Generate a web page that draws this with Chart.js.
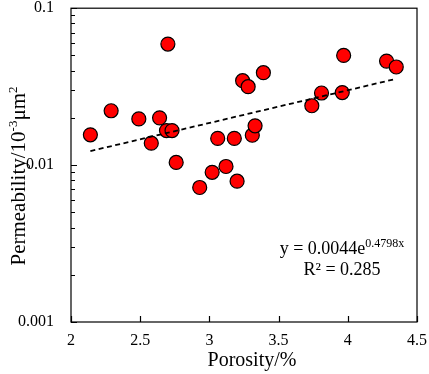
<!DOCTYPE html>
<html lang="en">
<head>
    <meta charset="UTF-8">
    <title>Permeability vs Porosity</title>
    <script src="https://cdn.jsdelivr.net/npm/chart.js"></script>
    <style>
        body { margin: 0; background: #fff; }
        .wrap { width: 429px; height: 374px; }
    </style>
</head>
<body>
    <div class="wrap"><canvas id="chart"></canvas></div>
    <script>
        // porosity (%) and permeability (10^-3 um^2)
        const porosity = [2.14, 2.29, 2.49, 2.58, 2.64, 2.69, 2.73, 2.70, 2.76, 2.93, 3.02, 3.06, 3.12,
                          3.18, 3.20, 3.24, 3.28, 3.31, 3.33, 3.39, 3.74, 3.81, 3.96, 3.97, 4.28, 4.35];
        const permeability = [0.0156, 0.0222, 0.0197, 0.0138, 0.0200, 0.0166, 0.0166, 0.0591, 0.0104,
                              0.0072, 0.0090, 0.0148, 0.0098, 0.0148, 0.0079, 0.0345, 0.0316, 0.0155,
                              0.0178, 0.0388, 0.0239, 0.0288, 0.0290, 0.0500, 0.0460, 0.0422];

        // exponential fit y = a * e^(b x)
        const fitA = 0.0044;
        const fitB = 0.4798;
        const fitR2 = 0.285;

        const xTicks = [2, 2.5, 3, 3.5, 4, 4.5];
        const yTicks = [0.001, 0.01, 0.1];

        const FONT = "'Liberation Serif', 'Times New Roman', serif";

        const points = porosity.map((x, i) => ({ x: x, y: permeability[i] }));
        const xMin = Math.min(...porosity), xMax = Math.max(...porosity);
        const trend = [xMin, xMax].map(x => ({ x: x, y: fitA * Math.exp(fitB * x) }));

        // minor ticks for the log axis (2..9 x 10^n)
        const yMinor = [];
        for (let d = 0; d < yTicks.length - 1; d++) {
            for (let k = 2; k <= 9; k++) yMinor.push(yTicks[d] * k);
        }

        // draws frame, inward ticks and the texts with superscripts
        const extras = {
            id: 'extras',
            afterDraw(chart) {
                const ctx = chart.ctx;
                const a = chart.chartArea;
                const xs = chart.scales.x, ys = chart.scales.y;
                ctx.save();
                ctx.strokeStyle = '#000';
                ctx.lineWidth = 1.2;
                ctx.strokeRect(a.left, a.top, a.right - a.left, a.bottom - a.top);

                ctx.beginPath();
                xTicks.forEach(v => {
                    const px = Math.round(xs.getPixelForValue(v)) + 0.5;
                    ctx.moveTo(px, a.bottom);
                    ctx.lineTo(px, a.bottom - 6);
                });
                yTicks.forEach(v => {
                    const py = Math.round(ys.getPixelForValue(v)) + 0.5;
                    ctx.moveTo(a.left, py);
                    ctx.lineTo(a.left + 6, py);
                });
                yMinor.forEach(v => {
                    const py = Math.round(ys.getPixelForValue(v)) + 0.5;
                    ctx.moveTo(a.left, py);
                    ctx.lineTo(a.left + 4, py);
                });
                ctx.stroke();

                ctx.fillStyle = '#000';
                ctx.textBaseline = 'alphabetic';

                // x title
                ctx.font = '20px ' + FONT;
                ctx.textAlign = 'center';
                ctx.fillText('Porosity/%', 252, 366);

                // y title, rotated, with superscripts
                const parts = [
                    { t: 'Permeability/10', size: 21, rise: 0 },
                    { t: '-3', size: 13, rise: 8 },
                    { t: '\u03bcm', size: 21, rise: 0 },
                    { t: '2', size: 13, rise: 8 }
                ];
                drawRich(ctx, parts, 25, 176, true);

                // fit equation
                drawRich(ctx, [
                    { t: 'y = ' + fitA + 'e', size: 18, rise: 0 },
                    { t: fitB + 'x', size: 12, rise: 7 }
                ], 342, 254, false);
                ctx.font = '18px ' + FONT;
                ctx.textAlign = 'center';
                ctx.fillText('R\u00b2 = ' + fitR2, 342, 275);
                ctx.restore();
            }
        };

        function drawRich(ctx, parts, cx, cy, rotated) {
            let total = 0;
            parts.forEach(p => {
                ctx.font = p.size + 'px ' + FONT;
                p.w = ctx.measureText(p.t).width;
                total += p.w;
            });
            ctx.save();
            ctx.translate(cx, cy);
            if (rotated) ctx.rotate(-Math.PI / 2);
            ctx.textAlign = 'left';
            let u = -total / 2;
            parts.forEach(p => {
                ctx.font = p.size + 'px ' + FONT;
                ctx.fillText(p.t, u, -p.rise);
                u += p.w;
            });
            ctx.restore();
        }

        new Chart(document.getElementById('chart'), {
            type: 'scatter',
            data: {
                datasets: [
                    {
                        type: 'line',
                        data: trend,
                        borderColor: '#000',
                        borderWidth: 1.8,
                        borderDash: [5, 3.5],
                        pointRadius: 0,
                        fill: false
                    },
                    {
                        data: points,
                        backgroundColor: '#ff0000',
                        borderColor: '#000',
                        borderWidth: 1.2,
                        pointRadius: 7,
                        pointHoverRadius: 7
                    }
                ]
            },
            options: {
                responsive: true,
                maintainAspectRatio: false,
                animation: false,
                layout: { padding: { top: 7, right: 12, left: 0, bottom: 0 } },
                plugins: {
                    legend: { display: false },
                    tooltip: { enabled: false }
                },
                scales: {
                    x: {
                        type: 'linear',
                        min: 2,
                        max: 4.5,
                        grid: { display: false, drawTicks: false },
                        border: { display: false },
                        afterBuildTicks: s => { s.ticks = xTicks.map(v => ({ value: v })); },
                        afterFit: s => { s.height = 52; s.paddingLeft = 0; s.paddingRight = 0; },
                        ticks: {
                            padding: 9,
                            color: '#000',
                            font: { family: FONT, size: 16 },
                            callback: v => String(v)
                        }
                    },
                    y: {
                        type: 'logarithmic',
                        min: 0.001,
                        max: 0.1,
                        grid: { display: false, drawTicks: false },
                        border: { display: false },
                        afterBuildTicks: s => { s.ticks = yTicks.map(v => ({ value: v })); },
                        afterFit: s => { s.width = 71; s.paddingTop = 0; s.paddingBottom = 0; },
                        ticks: {
                            padding: 17,
                            color: '#000',
                            font: { family: FONT, size: 16 },
                            callback: v => String(v)
                        }
                    }
                }
            },
            plugins: [extras]
        });
    </script>
</body>
</html>
